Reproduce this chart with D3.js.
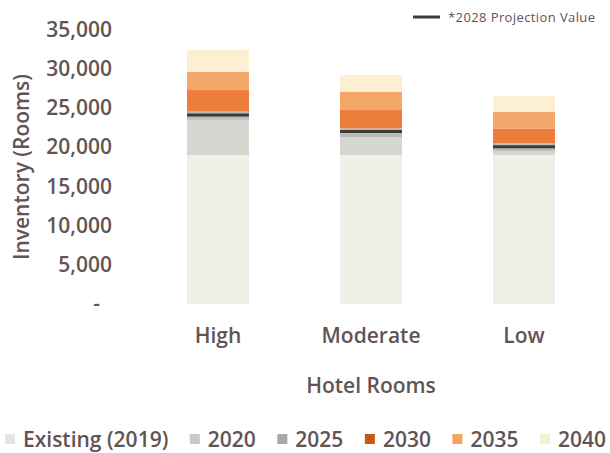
<!DOCTYPE html>
<html>
<head>
<meta charset="utf-8">
<script src="https://cdn.jsdelivr.net/npm/d3@7/dist/d3.min.js"></script>
<style>
  html, body { margin: 0; padding: 0; background: #ffffff; }
  svg { display: block; font-family: "Open Sans", "Noto Sans", sans-serif; }
</style>
</head>
<body>
<svg id="chart" width="610" height="453"></svg>
<script>
// ---- data ----
const categories = ["High", "Moderate", "Low"];
const seriesNames = ["Existing (2019)", "2020", "2025", "2030", "2035", "2040"];
const existing2019 = [19000, 19000, 19000];
const add2020 = [4500, 2300, 500];
const add2025 = [1050, 1100, 1000];
const add2030 = [2750, 2350, 1900];
const add2035 = [2300, 2350, 2150];
const add2040 = [2800, 2100, 2000];
const projection2028 = [24100, 22000, 20050];
const yTicks = [0, 5000, 10000, 15000, 20000, 25000, 30000, 35000];
const xTitle = "Hotel Rooms";
const yTitle = "Inventory (Rooms)";
const projectionLabel = "*2028 Projection Value";

// ---- styles ----
const barColors = ["#eef1e6", "#d5d7d1", "#b9bbb6", "#ec7d3b", "#f3a669", "#fdf0d2"];
const legendColors = ["#e4e5e2", "#c9cac7", "#a8a9a6", "#c55a11", "#f0a45c", "#f2f3d2"];
const textColor = "#615454";

const svg = d3.select("#chart");

const rows = categories.map((c, i) => ({
  cat: c,
  "Existing (2019)": existing2019[i],
  "2020": add2020[i],
  "2025": add2025[i],
  "2030": add2030[i],
  "2035": add2035[i],
  "2040": add2040[i]
}));

const stacked = d3.stack().keys(seriesNames)(rows);

const x = d3.scaleBand()
  .domain(categories)
  .range([156.4, 585.6])
  .paddingInner(0.595)
  .paddingOuter(0.2);

const y = d3.scaleLinear().domain([0, 35000]).range([304, 29.7]);

const color = d3.scaleOrdinal().domain(seriesNames).range(barColors);

// bars
svg.append("g").selectAll("g")
  .data(stacked)
  .join("g")
  .attr("fill", d => color(d.key))
  .selectAll("rect")
  .data(d => d)
  .join("rect")
  .attr("x", d => x(d.data.cat))
  .attr("width", x.bandwidth())
  .attr("y", d => y(d[1]))
  .attr("height", d => y(d[0]) - y(d[1]));

// projection lines
svg.append("g").selectAll("line")
  .data(categories.map((c, i) => ({ cat: c, v: projection2028[i] })))
  .join("line")
  .attr("x1", d => x(d.cat))
  .attr("x2", d => x(d.cat) + x.bandwidth())
  .attr("y1", d => y(d.v))
  .attr("y2", d => y(d.v))
  .attr("stroke", "#3b3b3b")
  .attr("stroke-width", 3);

// y axis
const yAxis = d3.axisLeft(y)
  .tickValues(yTicks)
  .tickSize(0)
  .tickPadding(0)
  .tickFormat(d => d === 0 ? "-\u2007" : d3.format(",")(d));

const yg = svg.append("g").attr("transform", "translate(112,0)").call(yAxis);
yg.select(".domain").remove();
yg.selectAll("text")
  .attr("fill", textColor)
  .style("font-family", '"Open Sans", sans-serif')
  .style("font-size", "21px")
  .style("font-weight", 600);

// x axis
const xAxis = d3.axisBottom(x).tickSize(0).tickPadding(0);
const xg = svg.append("g").attr("transform", "translate(0,322)").call(xAxis);
xg.select(".domain").remove();
xg.selectAll("text")
  .attr("fill", textColor)
  .attr("dy", "0")
  .attr("y", 21)
  .style("font-family", '"Open Sans", sans-serif')
  .style("font-size", "21px")
  .style("font-weight", 600);

// axis titles
svg.append("text")
  .attr("x", x("Moderate") + x.bandwidth() / 2)
  .attr("y", 393)
  .attr("text-anchor", "middle")
  .attr("fill", textColor)
  .style("font-size", "21px")
  .style("font-weight", 600)
  .text(xTitle);

svg.append("text")
  .attr("transform", "translate(29,167) rotate(-90)")
  .attr("text-anchor", "middle")
  .attr("fill", textColor)
  .style("font-size", "21px")
  .style("font-weight", 600)
  .text(yTitle);

// projection legend (top right)
const pl = svg.append("g").attr("transform", "translate(413,17)");
pl.append("line")
  .attr("x1", 0).attr("x2", 27).attr("y1", 0).attr("y2", 0)
  .attr("stroke", "#3b3b3b").attr("stroke-width", 3);
pl.append("text")
  .attr("x", 35).attr("y", 4.5)
  .attr("fill", textColor)
  .style("font-size", "13px")
  .style("letter-spacing", "0.4px")
  .style("font-weight", 500)
  .text(projectionLabel);

// bottom legend
const lg = svg.append("g").attr("transform", "translate(0,447)");
let cursor = 5;
seriesNames.forEach((name, i) => {
  const item = lg.append("g").attr("transform", `translate(${cursor},0)`);
  item.append("rect")
    .attr("x", 0).attr("y", -13).attr("width", 10).attr("height", 10)
    .attr("fill", legendColors[i]);
  const t = item.append("text")
    .attr("x", 18).attr("y", 0)
    .attr("fill", textColor)
    .style("font-size", "21px")
    .style("font-weight", 600)
    .text(name);
  cursor += 18 + t.node().getComputedTextLength() + 21.5;
});
</script>
</body>
</html>
